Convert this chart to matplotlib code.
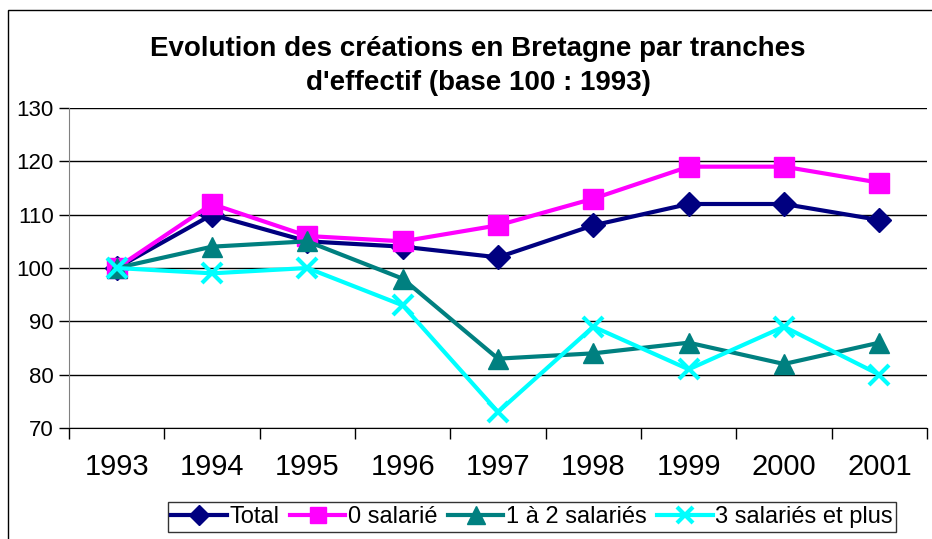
import matplotlib.pyplot as plt
from matplotlib.patches import Rectangle

plt.rcParams['font.family'] = ['Liberation Sans', 'DejaVu Sans']

# Data
years = ['1993', '1994', '1995', '1996', '1997', '1998', '1999', '2000', '2001']
total = [100, 110, 105, 104, 102, 108, 112, 112, 109]
zero_sal = [100, 112, 106, 105, 108, 113, 119, 119, 116]
one_two_sal = [100, 104, 105, 98, 83, 84, 86, 82, 86]
three_plus = [100, 99, 100, 93, 73, 89, 81, 89, 80]

fig = plt.figure(figsize=(9.32, 5.39), dpi=100)
ax = fig.add_axes([69 / 932, 1 - 428 / 539, (927 - 69) / 932, (428 - 108) / 539])

x = range(len(years))
ax.plot(x, total, color='#000080', lw=3, marker='D', ms=12, label='Total')
ax.plot(x, zero_sal, color='#FF00FF', lw=3, marker='s', ms=14, label='0 salarié')
ax.plot(x, one_two_sal, color='#008080', lw=3, marker='^', ms=15, label='1 à 2 salariés')
ax.plot(x, three_plus, color='#00FFFF', lw=3, marker='x', ms=14, mew=3, label='3 salariés et plus')

ax.set_xlim(-0.5, len(years) - 0.5)
ax.set_ylim(70, 130)
ax.set_yticks(range(70, 131, 10))
ax.set_xticks(x)
ax.set_xticklabels(years, fontsize=21)
ax.set_xticks([i + 0.5 for i in range(-1, len(years))], minor=True)
ax.tick_params(axis='x', which='major', length=0, pad=18)
ax.tick_params(axis='x', which='minor', length=8, width=1, direction='out')
ax.tick_params(axis='y', labelsize=16, length=7, width=1, direction='out', pad=4)

ax.grid(axis='y', color='black', lw=1)
ax.set_axisbelow(True)
for side in ['top', 'right']:
    ax.spines[side].set_visible(False)
ax.spines['left'].set_color('#808080')
ax.spines['bottom'].set_color('black')

fig.text(0.513, 1 - 66 / 539, "Evolution des créations en Bretagne par tranches\nd'effectif (base 100 : 1993)",
         ha='center', va='center', fontsize=20, fontweight='bold', linespacing=1.35)

leg = fig.legend(loc='center', bbox_to_anchor=(532 / 932, 1 - 517 / 539), ncol=4,
                 fontsize=17, frameon=True, fancybox=False, edgecolor='black',
                 handlelength=2.35, handletextpad=0.1, columnspacing=0.45,
                 borderpad=0.15, markerscale=0.85)
leg.get_frame().set_linewidth(1)

# outer chart border (left and top visible)
fig.add_artist(Rectangle((8 / 932, -0.1), 1.2, 1 - 10 / 539 + 0.1, transform=fig.transFigure,
                         fill=False, edgecolor='black', lw=1))

fig.savefig('out.png', dpi=100)
